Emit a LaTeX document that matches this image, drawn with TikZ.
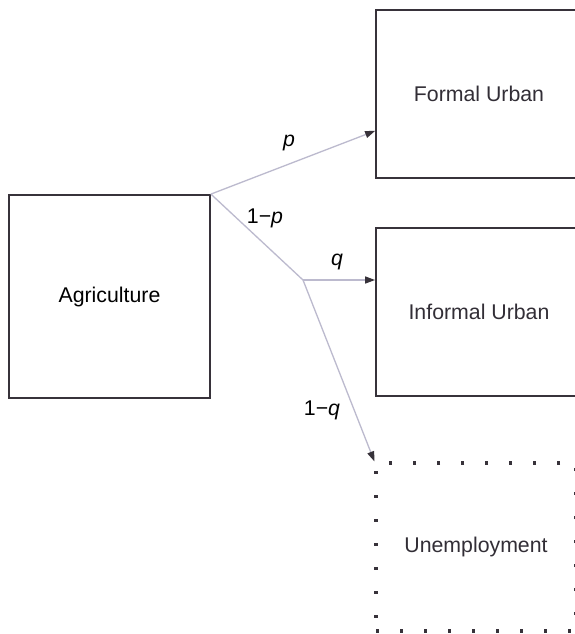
\documentclass[tikz,border=0pt]{standalone}
\usepackage{fontspec}
\setmainfont{Liberation Sans}
\usetikzlibrary{arrows.meta, positioning}
\definecolor{flowgray}{RGB}{188,186,206}
\definecolor{boxline}{RGB}{55,50,58}
\definecolor{labelink}{RGB}{50,46,54}

\begin{document}
\begin{tikzpicture}[x=1pt, y=-1pt,
    sector/.style={draw=boxline, line width=1.8pt, minimum width=206pt, minimum height=168pt,
                   inner sep=0pt, text=labelink, font=\fontsize{21.3}{25}\selectfont},
    dotbox/.style={sector, line width=3.2pt, dash pattern=on 3.2pt off 20.8pt},
    flow/.style={draw=flowgray, line width=1.3pt, -{Triangle[length=10pt, width=7pt, color=boxline]}},
    prob/.style={text=black, font=\fontsize{21.3}{25}\selectfont}]
  \useasboundingbox (0,0) rectangle (575,634);
  \clip (0,0) rectangle (575,634);
  \fill[white] (0,0) rectangle (575,634);

  % sectors
  \node[sector, text=black, minimum width=201pt, minimum height=203pt] (agri) at (109.5,296.5) {Agriculture};
  \node[sector] (formal) at (479,94) {Formal Urban};
  \node[sector] (informal) at (479,312) {Informal Urban};
  \node[dotbox, minimum width=200pt] (unemp) at (476,547) {Unemployment};

  % migration flows
  \coordinate (split) at (303,280);
  \draw[flow] (agri.north east) -- ([yshift=48pt]formal.south west);
  \draw[draw=flowgray, line width=1.3pt] (agri.north east) -- (split);
  \draw[flow] (split) -- (split -| informal.west);
  \draw[flow] (split) -- (unemp.north west);

  % probabilities
  \node[prob] (lp) at (289,143) {\textit{p}};
  \node[prob] (lnotp) at (265,218) {1−\textit{p}};
  \node[prob] (lq) at (337,262) {\textit{q}};
  \node[prob] (lnotq) at (322,410) {1−\textit{q}};
\end{tikzpicture}
\end{document}
